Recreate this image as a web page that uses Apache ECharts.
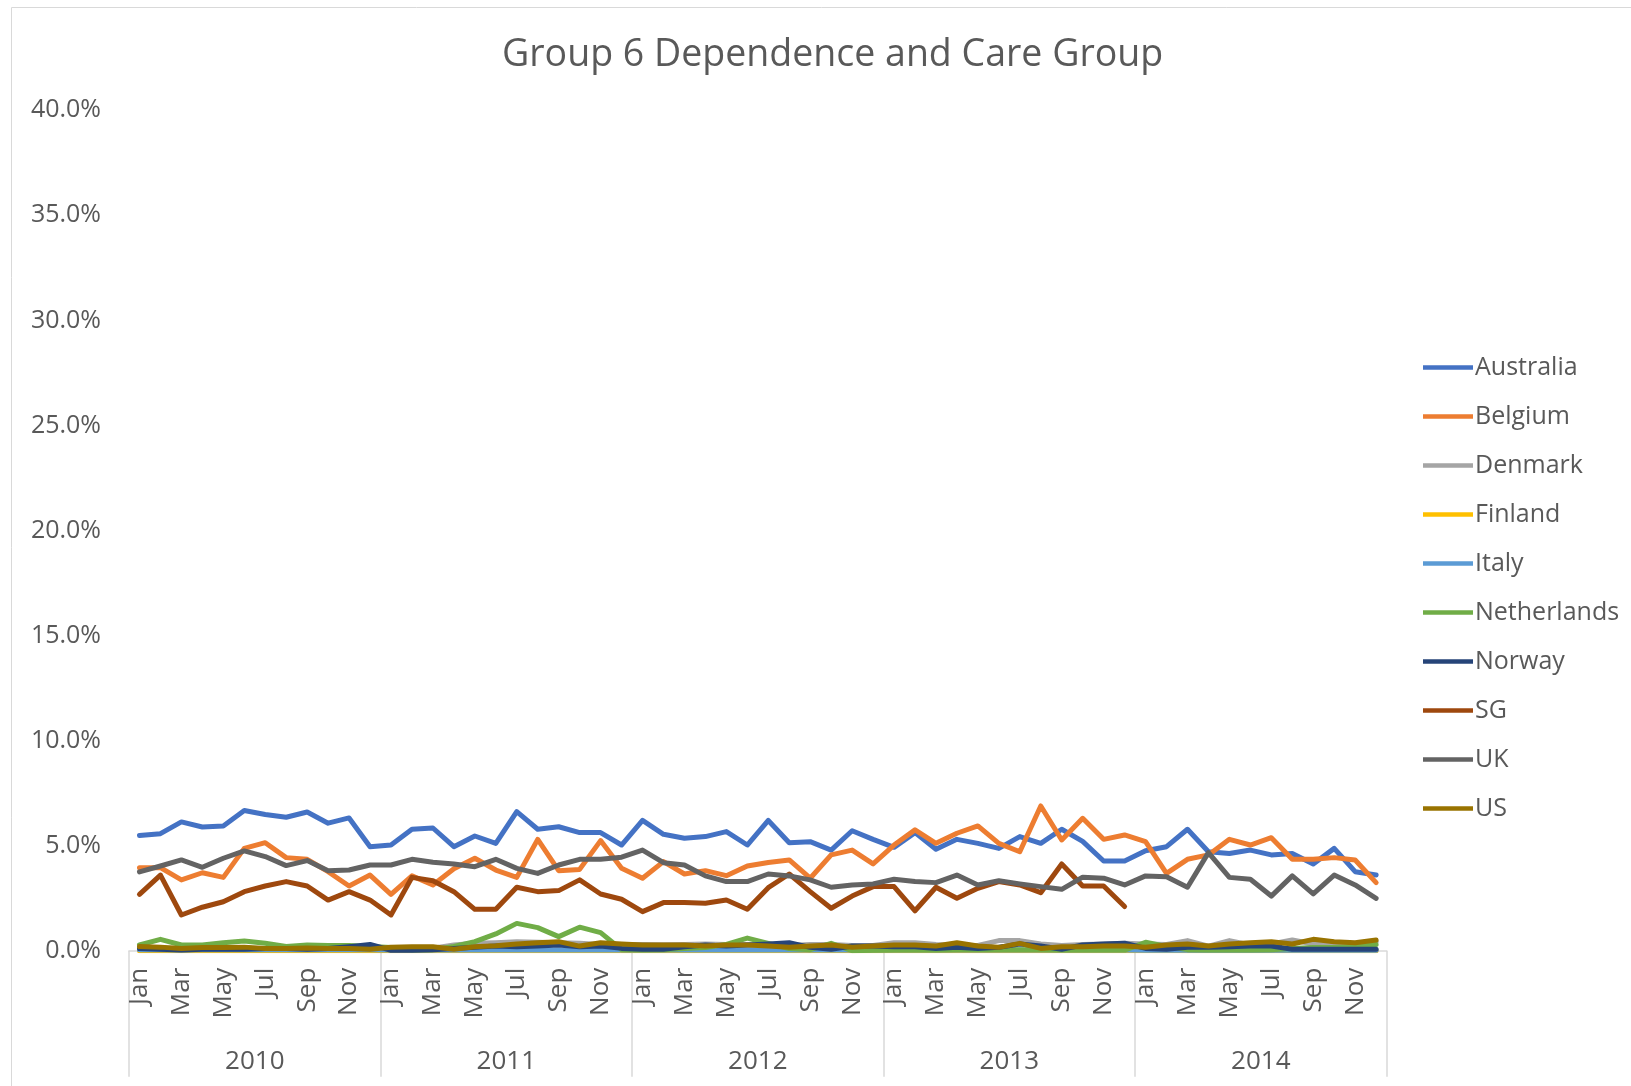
<!DOCTYPE html>
<html>
<head>
<meta charset="utf-8">
<script src="https://cdn.jsdelivr.net/npm/echarts@6/dist/echarts.min.js"></script>
<style>html,body{margin:0;padding:0;background:#fff;}#c{width:1631px;height:1086px;}</style>
</head>
<body>
<div id="c"></div>
<script>
const years = ['2010', '2011', '2012', '2013', '2014'];
const monthNames = ['Jan','Feb','Mar','Apr','May','Jun','Jul','Aug','Sep','Oct','Nov','Dec'];
const yTicks = [0, 5, 10, 15, 20, 25, 30, 35, 40];

const australia = [
  5.48, 5.57, 6.13, 5.89, 5.94, 6.67, 6.48, 6.35, 6.60, 6.07, 6.32, 4.95,
  5.03, 5.78, 5.84, 4.95, 5.46, 5.11, 6.62, 5.78, 5.90, 5.62, 5.62, 5.03,
  6.20, 5.54, 5.35, 5.43, 5.67, 5.03, 6.20, 5.14, 5.19, 4.79, 5.71, 5.30,
  4.92, 5.62, 4.83, 5.30, 5.11, 4.87, 5.43, 5.11, 5.78, 5.20, 4.27, 4.27,
  4.76, 4.95, 5.78, 4.71, 4.63, 4.79, 4.56, 4.63, 4.13, 4.87, 3.76, 3.60];
const belgium = [
  3.95, 3.95, 3.37, 3.71, 3.49, 4.87, 5.14, 4.43, 4.35, 3.76, 3.08, 3.60,
  2.68, 3.56, 3.13, 3.90, 4.40, 3.84, 3.49, 5.30, 3.81, 3.87, 5.24, 3.92,
  3.45, 4.24, 3.65, 3.81, 3.57, 4.03, 4.20, 4.32, 3.45, 4.56, 4.79, 4.13,
  5.03, 5.75, 5.11, 5.59, 5.94, 5.11, 4.71, 6.89, 5.27, 6.30, 5.30, 5.51,
  5.19, 3.68, 4.35, 4.56, 5.30, 5.03, 5.38, 4.35, 4.35, 4.43, 4.32, 3.24];
const denmark = [
  0.10, 0.12, 0.12, 0.10, 0.10, 0.12, 0.10, 0.10, 0.12, 0.10, 0.10, 0.12,
  0.12, 0.15, 0.12, 0.27, 0.35, 0.38, 0.43, 0.40, 0.38, 0.35, 0.30, 0.30,
  0.30, 0.28, 0.30, 0.32, 0.30, 0.30, 0.25, 0.25, 0.30, 0.30, 0.25, 0.25,
  0.38, 0.38, 0.30, 0.25, 0.25, 0.48, 0.48, 0.32, 0.25, 0.30, 0.32, 0.35,
  0.32, 0.30, 0.48, 0.22, 0.48, 0.27, 0.32, 0.51, 0.32, 0.35, 0.32, 0.43];
const finland = [
  0, 0, 0, 0, 0, 0, 0, 0, 0, 0, 0, 0,
  0, 0, 0, 0, 0, 0, 0, 0, 0, 0, 0, 0,
  0, 0, 0, 0, 0, 0, 0, 0, 0, 0, 0, 0,
  0, 0, 0, 0, 0, 0, 0, 0, 0, 0, 0, 0,
  0, 0, 0, 0, 0, 0, 0, 0, 0, 0, 0, 0];
const italy = [
  0.05, 0.05, 0.03, 0.05, 0.05, 0.05, 0.05, 0.05, 0.05, 0.05, 0.05, 0.05,
  0.03, 0.03, 0.03, 0.03, 0.03, 0.03, 0.03, 0.03, 0.03, 0.03, 0.03, 0.03,
  0.03, 0.03, 0.03, 0.03, 0.03, 0.03, 0.03, 0.03, 0.03, 0.03, 0.03, 0.03,
  0.03, 0.03, 0.03, 0.03, 0.03, 0.03, 0.03, 0.03, 0.03, 0.03, 0.03, 0.03,
  0.02, 0.02, 0.02, 0.02, 0.02, 0.02, 0.02, 0.02, 0.02, 0.02, 0.02, 0.02];
const netherlands = [
  0.27, 0.54, 0.27, 0.27, 0.38, 0.46, 0.35, 0.20, 0.27, 0.25, 0.25, 0.20,
  0.15, 0.05, 0.05, 0.20, 0.43, 0.80, 1.30, 1.10, 0.67, 1.12, 0.86, 0.05,
  0.03, 0.05, 0.10, 0.15, 0.30, 0.60, 0.35, 0.10, 0.05, 0.35, 0.00, 0.02,
  0.03, 0.03, 0.03, 0.05, 0.05, 0.05, 0.05, 0.05, 0.03, 0.03, 0.03, 0.03,
  0.40, 0.20, 0.05, 0.03, 0.03, 0.03, 0.05, 0.10, 0.15, 0.15, 0.20, 0.30];
const norway = [
  0.10, 0.07, 0.03, 0.07, 0.07, 0.07, 0.10, 0.10, 0.07, 0.10, 0.19, 0.30,
  0.02, 0.02, 0.05, 0.11, 0.16, 0.22, 0.19, 0.22, 0.27, 0.19, 0.22, 0.11,
  0.07, 0.07, 0.19, 0.27, 0.22, 0.27, 0.32, 0.38, 0.16, 0.07, 0.22, 0.22,
  0.19, 0.19, 0.11, 0.16, 0.11, 0.16, 0.32, 0.22, 0.07, 0.27, 0.32, 0.36,
  0.11, 0.07, 0.16, 0.16, 0.19, 0.22, 0.22, 0.07, 0.07, 0.07, 0.07, 0.07];
const sg = [
  2.68, 3.60, 1.70, 2.07, 2.33, 2.81, 3.08, 3.29, 3.08, 2.41, 2.81, 2.41,
  1.70, 3.49, 3.33, 2.81, 1.97, 1.97, 3.02, 2.81, 2.86, 3.37, 2.70, 2.45,
  1.86, 2.29, 2.29, 2.26, 2.41, 1.97, 3.00, 3.65, 2.81, 2.02, 2.60, 3.05,
  3.05, 1.90, 3.02, 2.50, 2.97, 3.29, 3.13, 2.76, 4.13, 3.08, 3.08, 2.10,
  null, null, null, null, null, null, null, null, null, null, null, null];
const uk = [
  3.75, 4.03, 4.32, 3.97, 4.40, 4.75, 4.48, 4.05, 4.29, 3.81, 3.84, 4.08,
  4.08, 4.35, 4.21, 4.13, 4.00, 4.35, 3.92, 3.68, 4.08, 4.35, 4.35, 4.45,
  4.79, 4.19, 4.08, 3.56, 3.29, 3.29, 3.65, 3.56, 3.37, 3.02, 3.13, 3.18,
  3.40, 3.29, 3.24, 3.60, 3.13, 3.33, 3.18, 3.05, 2.92, 3.50, 3.45, 3.13,
  3.56, 3.52, 3.02, 4.67, 3.49, 3.40, 2.60, 3.56, 2.70, 3.60, 3.13, 2.49];
const us = [
  0.20, 0.17, 0.11, 0.15, 0.15, 0.17, 0.11, 0.11, 0.13, 0.11, 0.11, 0.07,
  0.16, 0.19, 0.19, 0.07, 0.19, 0.24, 0.32, 0.38, 0.43, 0.22, 0.38, 0.32,
  0.27, 0.27, 0.27, 0.22, 0.27, 0.27, 0.22, 0.16, 0.22, 0.27, 0.16, 0.22,
  0.27, 0.27, 0.22, 0.38, 0.22, 0.16, 0.35, 0.11, 0.19, 0.19, 0.22, 0.22,
  0.16, 0.27, 0.32, 0.22, 0.32, 0.38, 0.43, 0.32, 0.54, 0.43, 0.38, 0.51];

const seriesNames = ['Australia','Belgium','Denmark','Finland','Italy','Netherlands','Norway','SG','UK','US'];
const seriesData = [australia, belgium, denmark, finland, italy, netherlands, norway, sg, uk, us];
const colors = ['#4472C4','#ED7D31','#A5A5A5','#FFC000','#5B9BD5','#70AD47','#264478','#9E480E','#636363','#997300'];

const categories = [];
years.forEach(y => monthNames.forEach(m => categories.push(m)));

const FONT = '"Open Sans", sans-serif';
const TXT = '#595959';

const chart = echarts.init(document.getElementById('c'));
chart.setOption({
  animation: false,
  color: colors,
  graphic: [{
    type: 'rect', left: 9, top: 5, z: -10,
    shape: { width: 1700, height: 1200 },
    style: { fill: 'none', stroke: '#d9d9d9', lineWidth: 1 }
  }],
  title: {
    text: 'Group 6 Dependence and Care Group',
    left: 497, top: 31,
    textStyle: { fontFamily: FONT, fontSize: 37.5, fontWeight: 'normal', color: TXT }
  },
  legend: {
    orient: 'vertical',
    left: 1418, top: 349,
    icon: 'rect',
    itemWidth: 50, itemHeight: 4.5, itemGap: 22,
    data: seriesNames,
    textStyle: { fontFamily: FONT, fontSize: 25, color: TXT, padding: [0, 0, 0, -3], lineHeight: 27 }
  },
  grid: { left: 129, right: 244.4, top: 110.3, bottom: 135.3, containLabel: false },
  xAxis: [{
    type: 'category',
    data: categories,
    boundaryGap: true,
    axisLine: { show: true, lineStyle: { color: '#d9d9d9', width: 1.5 } },
    axisTick: { show: false },
    axisLabel: { interval: 1, rotate: 90, margin: 17, fontFamily: FONT, fontSize: 26, color: TXT }
  }, {
    type: 'category',
    data: years,
    position: 'bottom',
    boundaryGap: true,
    axisLine: { show: false },
    axisTick: { show: true, length: 126, lineStyle: { color: '#d9d9d9', width: 1.5 } },
    axisLabel: { interval: 0, margin: 98, fontFamily: FONT, fontSize: 26, color: TXT }
  }],
  yAxis: {
    type: 'value',
    min: yTicks[0], max: yTicks[yTicks.length - 1], interval: 5,
    axisLine: { show: false },
    axisTick: { show: false },
    splitLine: { show: false },
    axisLabel: { margin: 28, fontFamily: FONT, fontSize: 25, color: TXT,
      formatter: v => v.toFixed(1) + '%' }
  },
  series: seriesNames.map((n, k) => ({
    name: n,
    type: 'line',
    xAxisIndex: 0,
    data: seriesData[k],
    symbol: 'none',
    connectNulls: false,
    lineStyle: { width: 5, color: colors[k], cap: 'round', join: 'round' },
    itemStyle: { color: colors[k] }
  }))
});
</script>
</body>
</html>
